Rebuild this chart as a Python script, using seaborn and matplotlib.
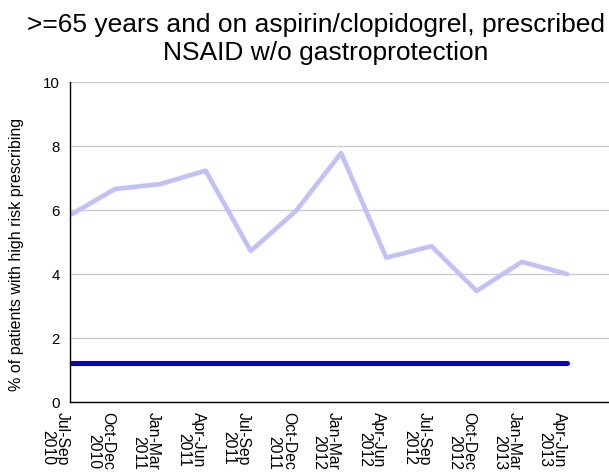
import matplotlib
matplotlib.use("Agg")
import matplotlib.pyplot as plt
import seaborn as sns
import pandas as pd

periods = ["Jul-Sep\n2010", "Oct-Dec\n2010", "Jan-Mar\n2011", "Apr-Jun\n2011",
           "Jul-Sep\n2011", "Oct-Dec\n2011", "Jan-Mar\n2012", "Apr-Jun\n2012",
           "Jul-Sep\n2012", "Oct-Dec\n2012", "Jan-Mar\n2013", "Apr-Jun\n2013"]
practice = [5.84, 6.66, 6.81, 7.23, 4.72, 5.97, 7.78, 4.51, 4.87, 3.47, 4.38, 4.0]
target = [1.22] * 12
title_lines = [">=65 years and on aspirin/clopidogrel, prescribed",
               "NSAID w/o gastroprotection"]

sns.set_theme(style="white", rc={"text.color": "black", "axes.labelcolor": "black",
                                 "xtick.color": "black", "ytick.color": "black"})
plt.rcParams['font.family'] = ['Liberation Sans', 'DejaVu Sans']

df = pd.DataFrame({"x": range(len(periods)), "practice": practice, "target": target})

W, H = 609, 474
fig = plt.figure(figsize=(W / 100, H / 100), dpi=100)
ax = fig.add_axes([70 / W, 1 - 402 / H, (W - 70) / W, (402 - 82) / H])

sns.lineplot(data=df, x="x", y="practice", ax=ax, color="#c0c0ff", linewidth=3.3)
sns.lineplot(data=df, x="x", y="target", ax=ax, color="#0000ee", linewidth=3.6)

ax.set_xlim(0, 11.93)
ax.set_ylim(0, 10)
ax.set_yticks([0, 2, 4, 6, 8, 10])
ax.set_xticks(range(len(periods)))
ax.set_xticklabels(periods, rotation=270, ha="right", va="top", fontsize=11.3,
                   linespacing=0.95, color="black")
ax.tick_params(axis="y", labelsize=10.8, length=0, pad=7.5, labelcolor="black")
ax.tick_params(axis="x", length=0, pad=7)
ax.yaxis.grid(True, color="#cccccc", linewidth=1)
ax.set_axisbelow(True)
for s in ["top", "right"]:
    ax.spines[s].set_visible(False)
for s in ["left", "bottom"]:
    ax.spines[s].set_color("black")
    ax.spines[s].set_linewidth(1)
ax.set_xlabel("")
ax.set_ylabel("% of patients with high risk prescribing", fontsize=11.5, color="black")
ax.yaxis.set_label_coords(-0.0853, 0.46)

fig.text(316 / W, 1 - 32 / H, title_lines[0], ha="center", va="baseline", fontsize=19,
         color="black")
fig.text(326 / W, 1 - 60 / H, title_lines[1], ha="center", va="baseline", fontsize=19,
         color="black")

fig.savefig("out.png", dpi=100)
